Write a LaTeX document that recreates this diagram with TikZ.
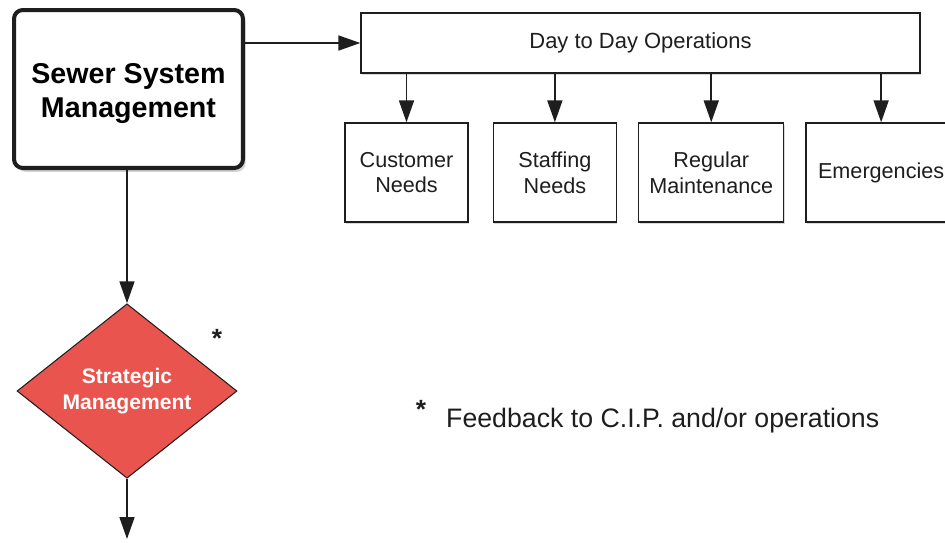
\documentclass[tikz,border=0pt]{standalone}
\usepackage{fontspec}
\setmainfont{Liberation Sans}
\usetikzlibrary{shapes.geometric,shadows,positioning}
\usetikzlibrary{arrows.meta}
\tikzset{>={Triangle[width=8.5pt,length=12.5pt]}}
\definecolor{ink}{RGB}{30, 30, 30}
\definecolor{strat_red}{RGB}{234, 84, 78}

\begin{document}
\begin{tikzpicture}[x=0.02cm,y=-0.02cm,
					box/.style={draw=ink, rectangle, line width=0.8pt, fill=white, align=center, text=ink,
						drop shadow={shadow xshift=0.6pt, shadow yshift=-1.4pt, opacity=0.3}},
					sub/.style={box, minimum height=1.98cm, font=\fontsize{12.3}{14.7}\selectfont},
					mgmt/.style={draw=ink, line width=2.3pt, rounded corners=5pt, fill=white, align=center,
						minimum width=4.58cm, minimum height=3.16cm, font=\bfseries\fontsize{16.3}{19.4}\selectfont,
						drop shadow={shadow xshift=1.5pt, shadow yshift=-2.2pt, opacity=0.35}},
					decision/.style={diamond, draw=ink, line width=0.6pt, fill=strat_red, text=white, align=center,
						inner sep=0pt, minimum width=4.4cm, minimum height=3.36cm, font=\bfseries\fontsize{12}{14.7}\selectfont},
					conn/.style={draw=ink, line width=1.1pt},
					mark star/.style={text=ink, font=\bfseries\fontsize{15}{18}\selectfont},
				]
				\useasboundingbox (0,0) rectangle (945,542);

				\node[mgmt] (ssm) at (128.5,89) {\rule{0pt}{16.5pt}Sewer System\\Management};
				\node[box, minimum width=11.18cm, minimum height=1.2cm, font=\fontsize{12.5}{15}\selectfont] (daily) at (640.5,43) {Day to Day Operations};

				\node[sub, minimum width=2.46cm] (customer) at (406.5,172.5) {Customer\\Needs};
				\node[sub, minimum width=2.46cm, right=0.48cm of customer] (staffing) {Staffing\\Needs};
				\node[sub, minimum width=2.9cm, right=0.42cm of staffing] (maint) {Regular\\Maintenance};
				\node[sub, minimum width=3cm, right=0.42cm of maint] (emerg) {Emergencies};

				\node[decision] (strat) at (127,391) {Strategic\\Management};
				\node[mark star] (star) at (217,338) {*};
				\coordinate (onward) at (127,539);

				\draw[conn,->] (ssm.east |- daily) -- (daily.west);
				\draw[conn,->] (daily.south -| customer) -- (customer);
				\draw[conn,->] (daily.south -| staffing) -- (staffing);
				\draw[conn,->] (daily.south -| maint) -- (maint);
				\draw[conn,->] (daily.south -| emerg) -- (emerg);
				\draw[conn,->] (ssm.south -| strat.north) -- (strat.north);
				\draw[conn,->] (strat.south) -- (onward);

				% footnote
				\node[anchor=base west, text=ink, font=\fontsize{15.2}{18}\selectfont] (note) at (440,427) {Feedback to C.I.P. and/or operations};
				\node[mark star] (fstar) at (421,409) {*};

			\end{tikzpicture}
\end{document}
